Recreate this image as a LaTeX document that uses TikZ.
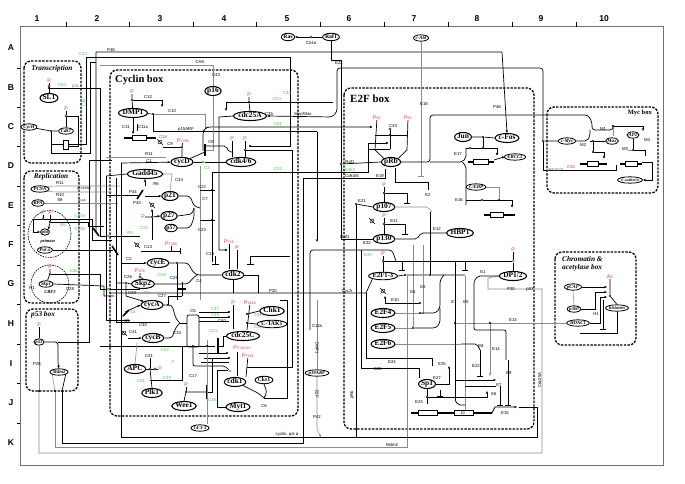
\documentclass[tikz,border=0pt]{standalone}
\usepackage{fontspec}
\setmainfont{Liberation Serif}
\newfontfamily\labf{Liberation Sans}
\usetikzlibrary{shapes.geometric,arrows.meta}
\pgfdeclarelayer{bg}
\pgfsetlayers{bg,main}
\definecolor{grn}{RGB}{60,205,60}
\definecolor{pnk}{RGB}{235,40,110}
\definecolor{cyn}{RGB}{40,215,235}
\tikzset{
 mol/.style={ellipse,draw,line width=1.05pt,fill=white,inner xsep=0pt,inner ysep=0pt,text height=5.1pt,text depth=1.3pt,font=\fontsize{7.4}{8}\selectfont\bfseries},
 mols/.style={ellipse,draw,line width=0.8pt,fill=white,inner xsep=0pt,inner ysep=0pt,text height=3.5pt,text depth=1pt,font=\fontsize{4.8}{5}\selectfont\bfseries\itshape},
 molm/.style={ellipse,draw,line width=0.9pt,fill=white,inner xsep=0pt,inner ysep=0pt,text height=4.2pt,text depth=1.1pt,font=\fontsize{5.8}{6}\selectfont\bfseries},
 lb/.style={font=\labf\fontsize{4.3}{4.6}\selectfont,inner sep=0.2pt},
 gl/.style={lb,text=grn},
 pp/.style={font=\labf\fontsize{5.2}{5.5}\selectfont,text=pnk,inner sep=0.2pt},
 bx/.style={draw,line width=1.3pt,dash pattern=on 2.4pt off 1.3pt,rounded corners=7pt},
 bt/.style={font=\fontsize{7.3}{8.3}\selectfont\bfseries\itshape,inner sep=0pt},
 it/.style={font=\fontsize{4.5}{5}\selectfont\bfseries\itshape,inner sep=0pt},
 ln/.style={line width=0.7pt},
 gln/.style={line width=0.55pt,black!45},
 jd/.style={circle,fill,inner sep=0pt,minimum size=2.3pt},
 oc/.style={circle,draw,fill=white,inner sep=0pt,minimum size=2.2pt,line width=0.45pt},
 ar/.style={-{Stealth[length=3pt,width=2.4pt]}},
 ih/.style={-{Bar[width=6pt,line width=1.1pt]}},
 ct/.style={-{Circle[open,length=2.2pt,width=2.2pt]}},
 gridl/.style={font=\labf\bfseries\fontsize{8.5}{9}\selectfont,inner sep=0pt},
}
\newcommand\Lb[4][lb]{\node[#1] (#2) at (#3) {#4};}
\newcommand\Jd[2]{\node[jd] (#1) at (#2) {};}
\newcommand\Oc[2]{\node[oc] (#1) at (#2) {};}
\newcommand\degsym[2]{\draw[line width=0.5pt,rotate around={45:(#1,#2)}] (#1,#2) ellipse (2.4pt and 1.3pt);\draw[line width=0.5pt] ({#1-3},{#2-3})--({#1+3},{#2+3});}
\newcommand\genesym[5]{\draw[line width=1.4pt] (#1,#5)--(#2,#5);\draw[line width=0.5pt,fill=white] (#3,{#5-2.5}) rectangle (#4,{#5+2.5});}
\begin{document}
\begin{tikzpicture}[x=1pt,y=-1pt]
\useasboundingbox (0,0) rectangle (685,484);
% ---------- grid ----------
\foreach \x/\t in {37/1,97/2,160/3,224/4,287/5,349/6,414/7,477/8,541/9,604/10}
  \node[gridl] (c\t) at (\x,19) {\t};
\foreach \y/\t in {48/A,88/B,127/C,166/D,206/E,245/F,284/G,324/H,364/I,403/J,443/K}
  \node[gridl] (r\t) at (11,\y) {\t};
% ---------- nodes ----------
\node[molm] (Ras) at (288,37) {Ras};
\node[molm] (Raf1) at (331,37) {Raf1};
\node[mols] (cAbl) at (421,38) {c-Abl};
\node[mol] (SL1) at (49,98) {SL1};
\node[mols] (CycH) at (29,127) {CycH};
\node[mols] (Cdk7) at (66,131) {Cdk7};
\node[mols] (PCNA) at (40,189) {PCNA};
\node[mols] (RPA) at (38,203) {RPA};
\node[mols,font=\fontsize{4.2}{4.5}\selectfont\bfseries\itshape] (p68) at (45,232) {p68};
\Lb[it]{primase}{48,241}{primase}
\node[mols] (Pola) at (45,250) {Pol α};
\node[mols] (Skp1) at (46,284) {Skp1};
\Lb[it]{CBF3}{50,292}{CBF3}
\node[mols] (p53) at (39,342) {p53};
\node[mols] (Mdm2) at (59,372) {Mdm2};
\node[mol] (DMP1) at (133,113) {DMP1};
\node[mol] (p16) at (213,91) {p16};
\node[mol] (cdc25A) at (250,116) {cdc25A};
\node[mol] (cycD) at (182,162) {cycD};
\node[mol] (cdk46) at (241,162) {cdk4/6};
\node[mol] (Gadd45) at (145,174) {Gadd45};
\node[mol] (p21) at (170,196) {p21};
\node[mol] (p27) at (169,216) {p27};
\node[molm] (p57) at (171,228) {p57};
\node[mol] (cycE) at (158,263) {cycE};
\node[mol] (cdk2) at (233,275) {cdk2};
\node[mol] (Skp2) at (143,284) {Skp2};
\node[mol] (cycA) at (152,305) {cycA};
\node[mol] (cycB) at (153,338) {cycB};
\node[mol] (Chk1) at (272,311) {Chk1};
\node[molm] (CTAK1) at (272,324) {C-TAK1};
\node[mol] (cdc25C) at (243,336) {cdc25C};
\node[mol] (APC) at (135,369) {APC};
\node[mol] (Plk1) at (152,393) {Plk1};
\node[mol] (cdk1) at (235,382) {cdk1};
\node[molm] (Cks1) at (264,380) {Cks1};
\node[mol] (Wee1) at (184,406) {Wee1};
\node[mol] (Myt1) at (238,407) {Myt1};
\node[mols] (n1433) at (200,428) {14-3-3};
\node[mols] (p19ARF) at (317,373) {p19ARF};
\node[mol] (pRb) at (391,162) {pRb};
\node[mol] (Jun) at (463,137) {Jun};
\node[mol] (cFos) at (507,138) {c-Fos};
\node[mols] (ERCC1) at (515,157) {ERCC1};
\node[mols] (CEBP) at (476,187) {C/EBP};
\node[mol] (p107) at (384,207) {p107};
\node[mol] (p130) at (384,239) {p130};
\node[mol] (HBP1) at (460,233) {HBP1};
\node[molm,font=\fontsize{6.6}{7}\selectfont\bfseries] (E2F13) at (383,276) {E2F1-3};
\node[mol] (DP12) at (513,276) {DP1/2};
\node[mol] (E2F4) at (383,313) {E2F4};
\node[mol] (E2F5) at (383,328) {E2F5};
\node[mol] (E2F6) at (383,344) {E2F6};
\node[mol] (Sp1) at (427,384) {Sp1};
\node[mols] (cMyc) at (567,141) {c-Myc};
\node[mols] (Max) at (612,141) {Max};
\node[mols] (AP2) at (633,135) {AP2};
\node[mols,font=\fontsize{3.8}{4}\selectfont\bfseries\itshape] (Ecad) at (630,180) {E-cadherin};
\node[mols] (pCAF) at (573,287) {pCAF};
\node[mols] (p300) at (574,309) {p300};
\node[mols] (HDAC1) at (578,323) {HDAC1};
\node[mols] (hist) at (617,308) {histones};
% ---------- box titles ----------
\Lb[bt]{tTr}{52,69}{Transcription}
\Lb[bt]{tRe}{51,177}{Replication}
\node[bt,anchor=west] (tP53) at (31,315) {p53 box};
\node[font=\fontsize{10.5}{11}\selectfont\bfseries,anchor=west,inner sep=0pt] (tCy) at (115,80) {Cyclin box};
\node[font=\fontsize{11}{12}\selectfont\bfseries,anchor=west,inner sep=0pt] (tE2) at (350,99) {E2F box};
\node[font=\fontsize{6.5}{7}\selectfont\bfseries,anchor=east,inner sep=0pt] (tMy) at (652,113) {Myc box};
\node[bt,anchor=north west,align=left] (tCh) at (562,256) {Chromatin \&\\acetylase box};
% ---------- P labels ----------
\Lb[pp]{pSL}{49,81}{P}
\Lb[pp]{pC7}{66,109}{P}
\Lb[pp]{pR1}{43,213}{P}
\Lb[pp]{pR2}{50,213}{P}
\Lb[pp]{pSk}{50,267}{P}
\Lb[pp]{p53P}{39,325}{P}
\Lb[pp]{pDM}{132,92}{P}
\Lb[pp]{pA}{249,95}{P}
\Lb[pp]{pT286}{183,141}{P\fontsize{3.6}{4}\selectfont T286}
\Lb[pp]{pk1}{232,139}{P}
\Lb[pp]{pk2}{245,139}{P}
\Lb[pp]{pp27}{143,217}{P}
\Lb[pp]{pT380}{171,244}{P\fontsize{3.6}{4}\selectfont T380}
\Lb[pp]{pT15}{229,242}{P\fontsize{3.6}{4}\selectfont T15}
\Lb[pp]{pk2b}{237,248}{P}
\Lb[pp]{pS76}{140,271}{P\fontsize{3.6}{4}\selectfont S76}
\Lb[pp]{pcA}{133,312}{\fontsize{3.8}{4}\selectfont C3}
\Lb[pp]{pc25}{233,303}{P}
\Lb[pp]{pS216}{250,303}{P\fontsize{3.6}{4}\selectfont S216}
\Lb[pp]{pT14}{242,348}{P\fontsize{3.6}{4}\selectfont T14/Y15}
\Lb[pp]{pT161}{248,356}{P\fontsize{3.6}{4}\selectfont T161}
\Lb[pp]{pAPC}{160,369}{P}
\Lb[pp]{pWee}{186,385}{P}
\Lb[pp]{pE1a}{377,118}{P\fontsize{3.6}{4}\selectfont E1}
\Lb[pp]{pE1b}{408,118}{P\fontsize{3.6}{4}\selectfont E1}
\Lb[pp]{p107P}{384,185}{P}
\Lb[pp]{p130P}{384,216}{P}
\Lb[pp]{pE2F}{383,254}{P}
\Lb[pp]{pDP}{513,250}{P}
\Lb[pp]{pAc}{610,277}{Ac}
% ---------- junction dots ----------
\Jd{jC7}{51,131} \Jd{jSL}{49,88} \Jd{jR1}{43,219} \Jd{jR2}{50,222}
\Jd{jDM}{153,114} \Jd{jA}{249,102} \Jd{jT286}{182,147} \Jd{jk2}{245,150}
\Jd{j22}{212,190} \Jd{j23}{212,220} \Jd{jp27}{152,217} \Jd{jE}{177,263}
\Jd{jSk}{126,283} \Jd{jcA}{168,305} \Jd{jK1}{247,314} \Jd{jK2}{247,323}
\Jd{jAPC}{150,369} \Jd{jW}{186,392} \Jd{j1}{207,346} \Jd{j2}{193,346}
\Jd{jRb}{390,135} \Jd{jJ}{483,137} \Jd{jJ2}{483,148} \Jd{jCE}{499,200}
\Jd{j107}{384,193} \Jd{j130}{384,224} \Jd{jE21}{356,204} \Jd{jE4}{420,313}
\Jd{jE5}{413,328} \Jd{jE10}{420,303} \Jd{jE13}{455,323} \Jd{jE14}{490,323}
\Jd{jSp}{427,397} \Jd{jM}{543,141} \Jd{jMx}{593,141} \Jd{jMx2}{593,152}
\Jd{jAP}{613,126} \Jd{jAP2}{633,150} \Jd{jH}{610,296} \Jd{jF1}{405,275} \Jd{jF2}{430,275}
\Jd{b1}{39,391} \Jd{b2}{55,391} \Jd{b3}{62,391} \Jd{jRaf}{341,164}
\node[circle,fill=grn,inner sep=0pt,minimum size=2.6pt] (jC3) at (203,162) {};
\node[circle,fill=grn,inner sep=0pt,minimum size=2.6pt] (jDPg) at (513,261) {};
\node[circle,fill=cyn,inner sep=0pt,minimum size=2.6pt] (jcy) at (230,371) {};
\node[circle,fill=grn,inner sep=0pt,minimum size=2.6pt] (jg1) at (108,236) {};
\node[circle,fill=grn,inner sep=0pt,minimum size=2.6pt] (jg2) at (108,289) {};
\Oc{oRas}{311,37} \Oc{oSL}{49,86} \Oc{oC7}{66,116} \Oc{oDM}{132,100} \Oc{oSk}{50,274}
\Oc{oS76}{140,277} \Oc{oP}{155,369} \Oc{oRb}{390,129} \Oc{oJ}{470,148} \Oc{oCE}{482,200}
\Oc{oE2}{383,261}
% ---------- labels ----------
\Lb{lC24a}{311,43}{C24a}
\Lb[gl]{gC14}{83,54}{C14}
\Lb{lP48}{111,50}{P48}
\Lb{lP48b}{497,107}{P48}
\Lb{lE22}{339,63}{E22}
\Lb{lCAK}{200,62}{CAK}
\Lb{lC43}{216,75}{C43}
\Lb[gl]{gC42}{62,85}{C42}
\Lb[lb,text=black!50]{lpSL}{77,86}{pSL1}
\node[gl,rotate=90] (gC36) at (84,103) {C36};
\Lb{lR11}{60,183}{R11}
\Lb{lR10}{60,195}{R10}
\Lb{lS9}{60,200}{S9}
\Lb[lb,font=\labf\fontsize{3}{3}\selectfont]{lpcna}{84,189}{p21/PCNA}
\Lb[lb,font=\labf\fontsize{3}{3}\selectfont]{lcyca}{82,201}{CycA}
\Lb[gl]{gR5}{63,225}{R5}
\Lb[gl]{gC20}{80,216}{C20a}
\Lb[gl]{gC20b}{80,229}{C20b}
\Lb[gl]{gCdc4}{75,271}{Cdc4}
\Lb{lC28}{70,289}{C28}
\Lb{lR1}{32,288}{R1}
\Lb{lP28}{37,364}{P28}
\Lb{lC12}{148,97}{C12}
\Lb{lC10}{172,111}{C10}
\Lb{lC11}{126,127}{C11}
\Lb{lC11a}{143,127}{C11a}
\Lb[lb,text=pnk]{lC16}{163,137}{C16}
\Lb{lp15}{186,129}{p15ARF}
\Lb[gl]{gC34}{287,93}{C34}
\Lb[gl]{gC24}{277,99}{C24}
\Lb{lC35}{269,114}{C35}
\Lb{lMM}{303,114}{Myc/Max}
\Lb[gl]{gC31}{278,124}{C31}
\Lb{lC8}{211,142}{C8}
\Lb{lC9}{170,144}{C9}
\Lb[gl]{gC3}{207,168}{C3}
\Lb{lR11b}{149,154}{R11}
\Lb{lC1}{149,161}{C1}
\Lb{lC34}{179,180}{C34}
\Lb{lR6}{156,184}{R6}
\Lb{lP44}{133,192}{P44}
\Lb{lP43}{137,203}{P43}
\Lb{lC22}{202,187}{C22}
\Lb{lC7}{205,199}{C7}
\Lb{lC23}{202,230}{C23}
\Lb[gl]{gC21}{144,228}{C21}
\Lb[gl]{gC32}{278,169}{C32}
\Lb[gl]{gR3}{130,233}{R3}
\Lb{lC13}{148,247}{C13}
\Lb{lC2}{129,259}{C2}
\Lb{lC19}{210,254}{C19}
\Lb{lC25}{174,278}{C25}
\Lb[gl]{gC28}{162,275}{C28}
\Lb{lC4}{199,281}{C4}
\Lb{lC26}{128,277}{C26}
\Lb{lC27}{162,296}{C27}
\Lb[gl]{gR2}{147,293}{R2}
\Lb{lP20}{273,291}{P20}
\Lb{lC29}{132,293}{C29}
\Lb{lS9b}{127,321}{S9}
\Lb{lC30}{143,325}{C30}
\Lb{lC15}{177,333}{C15}
\Lb{lC5}{193,311}{C5}
\Lb[gl]{gC37}{215,309}{C37}
\Lb[gl]{gC39}{215,315}{C39}
\Lb{lC40}{222,321}{C40}
\Lb[gl]{gC38}{258,315}{C38}
\Lb[gl]{gC39b}{258,327}{C39}
\Lb[gl]{gC24b}{213,331}{C24}
\Lb{lC41}{133,332}{C41}
\Lb[gl]{gC42b}{165,350}{C42}
\Lb{lC41b}{149,356}{C41}
\Lb[gl]{gT}{173,362}{T}
\Lb[gl]{gC41}{141,381}{C41}
\Lb[gl]{gC39c}{167,378}{C39}
\Lb{lC17}{193,376}{C17}
\Lb[gl]{gC16}{212,400}{C16}
\Lb{lC6}{264,406}{C6}
\Lb{lC11b}{317,326}{C11b}
\node[lb,rotate=-90] (lDMP) at (317,348) {DMP1};
\node[lb,rotate=-90] (lE2F) at (317,394) {E2F};
\Lb{lP42}{317,417}{P42}
\Lb{lcyc}{287,434}{cyclin, pol α}
\Lb{lMdm}{392,445}{Mdm2}
\Lb{lC33}{393,126}{C33}
\Lb{lRaf}{350,162}{Raf1}
\Lb[gl]{gCdk2}{350,170}{Cdk2}
\Lb{lCdk46}{352,176}{Cdk4/6}
\Lb{lE19}{380,176}{E19}
\Lb{lE18}{424,104}{E18}
\Lb{lE17}{458,154}{E17}
\Lb{lE16}{459,200}{E16}
\Lb{lE2}{428,195}{E2}
\Lb{lE21}{362,201}{E21}
\Lb{lE11}{394,221}{E11}
\Lb{lE12}{437,229}{E12}
\Lb{lRaf2}{345,237}{Raf1}
\Lb{lE22b}{367,243}{E22}
\Lb[gl]{gE20}{368,255}{E20}
\Lb{lE1}{483,272}{E1}
\Lb{lE3}{423,287}{E3}
\Lb{lE4}{413,292}{E4}
\Lb{lCycA}{347,291}{CycA}
\Lb{lE10}{395,300}{E10}
\Lb{lE7}{454,302}{E7}
\Lb{lE5}{466,302}{E5}
\Lb{lE13}{513,320}{E13}
\Lb{lE14}{496,349}{E14}
\Lb{lE8}{481,346}{E8}
\Lb{lE22c}{476,366}{E22}
\Lb{lE9}{509,373}{E9}
\Lb{lE24}{392,362}{E24}
\Lb{lE26}{378,369}{E26}
\Lb{lE25}{442,364}{E25}
\Lb{lE27}{437,378}{E27}
\Lb{lE23}{419,402}{E23}
\Lb{lE7b}{499,385}{E7}
\Lb{lE6}{494,394}{E6}
\Lb{lE15}{505,413}{E15}
\Lb{lP20b}{511,289}{P20}
\Lb{lp53}{530,289}{p53}
\node[lb,rotate=90] (lpRb) at (352,395) {pRb};
\node[lb,rotate=90] (lcdc) at (539.5,380) {Cdc25A};
\Lb{lM1}{603,129}{M1}
\Lb{lM2}{583,145}{M2}
\Lb{lM3}{625,149}{M3}
\Lb{lM4}{647,140}{M4}
\Lb[lb,text=pnk]{lC35r}{571,167}{C35}
\Lb[lb,text=black!55]{lpE}{555,170}{pRb/E2F}
\Lb{lH1}{596,314}{H1}
\Lb[lb,font=\labf\fontsize{3.5}{4}\selectfont]{lE2g}{463,413}{E2}
% ---------- background: boxes and connectors ----------
\begin{pgfonlayer}{bg}
\fill[white] (0,0) rectangle (685,484);
\draw[line width=1pt,black!55] (20,27) rectangle (663,465);
\foreach \x in {66,129,193,256,320,384,448,512,576} \draw[line width=0.6pt] (\x,22)--(\x,27);
\foreach \y in {68,107,146,186,225,265,304,344,383,423} \draw[line width=0.6pt] (17,\y)--(20,\y);
\draw[bx] (24,61) rectangle (81,163);
\draw[bx] (24,171) rectangle (79,303);
\draw[bx] (26,309) rectangle (78,391);
\draw[bx] (110,70) rectangle (298,416);
\draw[bx] (344,88) rectangle (534,429);
\draw[bx] (547,107) rectangle (658,193);
\draw[bx] (555,252) rectangle (636,345);
\draw[line width=0.6pt,dash pattern=on 1.6pt off 1pt] (49.5,234) ellipse (21.5pt and 23.5pt);
\draw[line width=0.6pt,dash pattern=on 1.6pt off 1pt] (50,284) circle (19pt);
% top
\draw[ln,ar] (Raf1) -- (oRas) -- (Ras);
\draw[ln] (Raf1.south) -- (331,60) -- (341,60) -- (jRaf) -- (341,239) -- (p130.west);
\draw[ln] (jRaf) -- (pRb.west);
\draw[ln,ar,rounded corners=3pt] (cMyc.west) -- (jM) -- (543,68) -- (337,68) -- (337,112) -- (332,117) -- (cdc25A.east);
\draw[ln,ar] (96,232) -- (96,52) -- (502,52) -- (cFos.north);
\draw[line width=1.6pt] (93,228) -- (99,236);
% transcription
\draw[ln] (pSL) -- (oSL) -- (SL1);
\draw[ln] (jSL) -- (100,88) -- (100,236) -- (jg1) -- (140,236);
\draw[ln] (CycH) -- (jC7) -- (Cdk7);
\draw[ln] (pC7) -- (oC7) -- (Cdk7);
\draw[ln] (oC7) -- (78,116) -- (78,146) -- (68,146);
\draw[ln] (jC7) -- (51,144) -- (63,144);
\draw[ln,fill=white] (63,140) rectangle (68,149);
\draw[ln] (51,144) -- (51,153) -- (90,153) -- (90,62) -- (96,62);
\draw[ln,ct] (68,144) -- (86,144) -- (86,57) -- (290,57) -- (290,146) -- (249,146);
% replication
\draw[gln] (PCNA.north east) -- (57,186) -- (120,186);
\draw[gln] (PCNA.south east) -- (57,192) -- (112,192);
\draw[gln] (RPA) -- (118,203);
\draw[ln] (pR1) -- (jR1); \draw[ln] (pR2) -- (jR2);
\draw[ln,ar] (jR1) -- (33,219) -- (33,232) -- (p68.west);
\draw[ln,ar] (jR2) -- (p68.north east);
\draw[ln] (jR1) -- (92,219) -- (92,240) -- (112,240);
\draw[ln] (jR2) -- (88,222) -- (88,226) -- (104,226);
\draw[ln] (Pola) -- (113,250);
\draw[line width=1.6pt] (112,246) -- (118,255);
\draw[ln] (pSk) -- (oSk) -- (Skp1);
\draw[ln] (oSk) -- (100,274) -- (100,289) -- (jg2) -- (140,289);
\draw[ln] (Skp1.east) -- (104,286) -- (104,296) -- (114,296);
% p53
\draw[ln] (p53P) -- (p53);
\draw[ln,ar,rounded corners=3pt] (p53.east) -- (58,342) -- (58,364) -- (Mdm2.north);
\draw[ln] (58,342) -- (89,342) -- (89,160) -- (112,160);
\draw[gln] (p53.south) -- (b1);
\draw[gln] (b1) -- (39,453) -- (542,453) -- (542,289) -- (488,289) -- (488,278) -- (DP12.west);
\draw[gln] (Mdm2.south west) -- (b2);
\draw[gln] (b2) -- (55,447) -- (407,447) -- (407,276);
\draw[ln] (Mdm2.south east) -- (b3);
\draw[ln] (b3) -- (62,443) -- (303,443) -- (303,178) -- (385,178) -- (385,169);
% cyclin box left verticals
\draw[ln] (106,176) -- (106,320) -- (130,320);
\draw[ln] (106,176) -- (Gadd45.west);
\draw[ln] (116,178) -- (116,322) -- (170,322);
\draw[ln] (121,163) -- (121,437) -- (537,437) -- (537,407);
\draw[ln,ar] (121,163) -- (cycD);
\draw[gln] (106,157) -- (166,157);
\draw[ln] (116,283) -- (jSk) -- (Skp2.west);
\draw[ln] (100,346) -- (j2) -- (j1) -- (215,346);
\draw[line width=1.4pt] (218,338) -- (218,353);
\draw[ln] (cdc25C.west) -- (223,336) -- (223,346) -- (219,346);
% DMP1 / p16
\draw[ln] (pDM) -- (oDM) -- (DMP1);
\draw[ln,ar] (oDM) -- (162,100) -- (162,107);
\draw[ln] (DMP1) -- (jDM);
\draw[gln] (jDM) -- (205,114) -- (205,128);
\draw[ln] (jDM) -- (153,132);
\genesym{124}{156}{132}{146}{138}
\draw[ln,ar] (DMP1.south) -- (133,134);
\draw[line width=1pt] (137,124) -- (137,131);
\draw[line width=1pt] (153,132) -- (317,132);
\draw[ln,ar] (317,132) -- (317,242);
\draw[ln,ct,rounded corners=3pt] (203,150) -- (203,131) -- (207,127) -- (372,127);
\draw[gln] (100,65) -- (213,65) -- (p16.north);
\draw[gln] (p16.south) -- (213,150) -- (203,150);
% cdc25A / cdk4/6 / cycD
\draw[ln] (pA) -- (jA) -- (cdc25A.north);
\draw[ln,ar] (333,102) -- (226,102) -- (226,111);
\draw[ln,ct] (cdc25A.west) -- (219,117) -- (219,250) -- (227,250);
\draw[ln] (cycD.east) -- (jC3) -- (cdk46.west);
\draw[line width=1.2pt] (205,144) -- (205,156);
\draw[ln] (cycD.north east) -- (205,152);
\draw[ln,rounded corners=2pt] (205,146) -- (226,146) -- (229,152) -- (232,152);
\draw[ln] (pk1) -- (232,157);
\draw[ln] (pk2) -- (jk2) -- (245,157);
\draw[ln] (jk2) -- (292,150) -- (292,367) -- (247,367);
\draw[ln] (pT286) -- (jT286) -- (cycD.north);
\draw[ln] (163,147) -- (jT286);
\degsym{160}{142}
\draw[ln] (212,262) -- (212,172) -- (368,172) -- (368,143);
\draw[ln,ct] (368,143) -- (388,143);
\draw[ln] (368,149) -- (390,149);
% Gadd45 / p21 / p27 / p57
\draw[gln] (Gadd45.east) -- (172,174) -- (p21.north);
\draw[ln] (106,195) -- (138,195);
\draw[line width=1.6pt] (137,199) -- (143,190);
\draw[ln,ar] (145,186) -- (Gadd45.south);
\draw[ln,ar] (145,196) -- (p21.west);
\draw[ln,ar] (pp27) -- (jp27) -- (p27.west);
\draw[ln,ar] (jp27) -- (152,209);
\degsym{152}{205}
\draw[ln] (jp27) -- (152,240);
\draw[ln,rounded corners=3pt] (p21.east) -- (190,196) -- (194,206) -- (200,208);
\draw[ln,rounded corners=2pt] (p27.east) -- (192,214) -- (194,208);
\draw[ln,rounded corners=3pt] (p57.east) -- (190,228) -- (194,218) -- (194,208);
\draw[gln] (200,166) -- (200,300);
\draw[ln,ih] (200,190) -- (j22) -- (212,190);
\draw[ln,ih] (200,220) -- (j23) -- (212,220);
% cycE / cdk2 / Skp2
\degsym{137}{245}
\draw[ln,ih] (141,251) -- (181,251);
\draw[ln] (pT380) -- (171,251);
\draw[ln,ar] (121,263) -- (cycE.west);
\draw[ln,rounded corners=3pt] (cycE.east) -- (jE) -- (188,263) -- (193,272) -- (197,275) -- (cdk2.west);
\draw[ln,rounded corners=3pt] (Skp2.east) -- (188,284) -- (193,278) -- (197,275);
\draw[ln] (jE) -- (177,300);
\draw[ln] (pT15) -- (229,269);
\draw[ln] (pk2b) -- (237,269);
\draw[ln,-{Bar[width=7pt,line width=1.2pt]}] (215,256) -- (215,265);
\draw[ln,-{Bar[width=7pt,line width=1.2pt]}] (250,256) -- (250,265);
\draw[ln] (250,256) -- (290,256);
\draw[ln] (cdk2.south) -- (233,293);
\draw[ln] (cdk2.east) -- (258,275) -- (258,293);
\draw[line width=1.5pt] (178,289) -- (186,289);
\draw[ln] (182,282) -- (182,296);
\draw[ln] (110,293) -- (366,293) -- (E2F13.south west);
\draw[ln] (pS76) -- (oS76) -- (Skp2.north);
\draw[ln,ar] (jSk) -- (126,296) -- (cycA.north west);
% cycA / cycB / cdc25C
\draw[line width=1.6pt] (123,316) -- (129,310);
\draw[ln,ar] (125,312) -- (cycA.west);
\draw[ln,rounded corners=3pt] (cycA.east) -- (jcA) -- (172,305) -- (176,319) -- (180,323);
\draw[ln,rounded corners=3pt] (cycB.east) -- (172,338) -- (176,327) -- (180,323);
\draw[ln] (180,323) -- (187,323);
\draw[ln] (jcA) -- (168,296) -- (182,296);
\draw[ln,rounded corners=2pt] (187,315) rectangle (199,347);
\draw[ln,ct] (199,312) -- (230,312);
\draw[ln,ct] (199,317) -- (230,317);
\draw[ln] (199,321) -- (229,321);
\draw[ln] (pc25) -- (233,329);
\draw[ln] (pS216) -- (247,330);
\draw[ln] (Chk1.west) -- (jK1);
\draw[ln] (CTAK1.west) -- (jK2);
\degsym{124}{333}
\draw[ln,ar] (128,338) -- (cycB.west);
\draw[gln] (137,343) -- (APC.north);
% cdk1 region
\draw[ln,ct] (199,353) -- (228,353);
\draw[ln,ct] (204,358) -- (230,358);
\draw[ln] (201,362) -- (229,362);
\draw[ln,rounded corners=2pt] (193,346) -- (193,366) -- (225,366) -- (jcy);
\draw[ln] (237,352) -- (237,376);
\draw[ln] (pT161) -- (246,377);
\draw[ln,rounded corners=3pt] (cdk1.south east) -- (258,393) -- (264,398);
\draw[ln,rounded corners=3pt] (Cks1.south) -- (267,392) -- (264,398);
\draw[ln] (264,398) -- (287,398) -- (287,300) -- (280,300);
\draw[ln] (Myt1.west) -- (217,407) -- (217,370) -- (228,370);
\draw[ln] (Wee1.north) -- (jW) -- (207,392);
\draw[line width=1.4pt] (207,385) -- (207,399);
\draw[ln] (pWee) -- (jW);
\draw[ln] (207,392) -- (212,392) -- (212,358);
\draw[gln] (207,424) -- (207,340);
\draw[ln] (APC.east) -- (jAPC) -- (oP) -- (pAPC);
\draw[ln] (jAPC) -- (150,358);
\draw[ln] (Plk1.north) -- (jAPC);
\draw[ln] (150,380) -- (182,380) -- (182,347);
\draw[gln] (p19ARF.north) -- (317,300);
\draw[gln,ar,rounded corners=3pt] (p19ARF.south) -- (317,430) -- (321,437);
% E2F box: pRb
\draw[ln] (pE1a) -- (375,150) -- (pRb.north west);
\draw[ln] (pE1b) -- (407,150) -- (pRb.north east);
\draw[ln] (375,135) -- (jRb) -- (407,135);
\draw[ln] (oRb) -- (390,149);
\draw[gln,ih] (cAbl.south) -- (421,177);
\draw[ln] (395,168) -- (395,182) -- (428,182) -- (428,190);
\draw[ln,rounded corners=3pt] (pRb.east) -- (430,162) -- (430,115) -- (588,115) -- (592,122) -- (592,130) -- (613,130) -- (jAP);
\draw[ln,rounded corners=2pt] (430,162) -- (462,162) -- (466,158) -- (466,148);
\draw[ln,rounded corners=2pt] (462,162) -- (466,166) -- (466,205);
% Jun / Fos / CEBP
\draw[ln] (Jun.east) -- (jJ) -- (cFos.west);
\draw[ln] (jJ) -- (jJ2);
\draw[ln,ct] (oJ) -- (497,148) -- (497,155);
\draw[ln] (466,148) -- (oJ);
\genesym{468}{494}{473}{488}{162}
\draw[ln,ct] (494,160) -- (ERCC1.west);
\draw[gln] (CEBP.east) -- (499,187) -- (jCE);
\draw[ln,ct] (oCE) -- (512,200) -- (512,207);
\draw[ln] (466,200) -- (oCE);
\genesym{484}{515}{490}{503}{215}
% p107 / p130 / HBP1
\draw[ln] (p107P) -- (j107) -- (p107.north);
\draw[ln,ih] (j107) -- (407,193) -- (407,204);
\draw[gln,rounded corners=2pt] (p107.east) -- (428,207) -- (432,212);
\draw[ln] (jE21) -- (p107.west);
\draw[ln] (jE21) -- (356,437);
\draw[ln] (p130P) -- (j130) -- (p130.north);
\draw[ln,ih] (j130) -- (405,224) -- (405,235);
\degsym{372}{221}
\draw[ln,rounded corners=2pt] (HBP1.west) -- (421,233) -- (417,239) -- (p130.east);
\draw[gln] (413,245) -- (413,292);
\draw[gln] (423,245) -- (423,270);
\draw[ln] (430,212) -- (430,275);
\draw[ln,rounded corners=3pt] (310,330) -- (310,250) -- (392,250) -- (396,261);
% E2F1-3 / DP
\draw[ln] (pE2F) -- (oE2) -- (E2F13.north);
\draw[ln] (oE2) -- (jDPg);
\draw[ln] (pDP) -- (jDPg) -- (DP12.north);
\draw[ln,ih] (402,261) -- (402,271);
\draw[ln] (E2F13.east) -- (jF1) -- (jF2) -- (465,275);
\draw[ln,ih] (465,262) -- (465,271);
\draw[gln] (E2F4.east) -- (jE4);
\draw[gln] (E2F5.east) -- (jE5);
\draw[gln] (jE5) -- (413,292);
\draw[gln] (jE4) -- (423,313) -- (423,270);
\draw[gln] (E2F6.east) -- (461,344);
\draw[ln,ar] (385,303) -- (385,296);
\degsym{383}{291}
\draw[ln] (385,303) -- (jE10);
\draw[ln,rounded corners=3pt] (jE4) -- (436,313) -- (440,308) -- (440,280) -- (444,275);
\draw[ln,rounded corners=3pt] (jE5) -- (436,328) -- (440,323) -- (440,308);
\draw[ln] (455,262) -- (455,400);
\draw[gln] (465,276) -- (465,411);
\draw[gln] (jE13) -- (HDAC1.west);
\draw[gln,ar] (jE14) -- (490,376);
\draw[ln,rounded corners=2pt] (DP12.west) -- (478,276) -- (474,281) -- (474,330) -- (506,330) -- (506,360);
\draw[ln,rounded corners=2pt] (461,344) -- (477,344) -- (480,350);
\draw[ln,ih] (480,350) -- (480,377);
\draw[ln] (361,250) -- (361,368) -- (419,368) -- (419,378);
\draw[ln] (366,293) -- (366,358) -- (432,358) -- (432,366);
\draw[ln,ar] (Sp1.east) -- (449,384) -- (449,366);
\draw[ln,ih] (440,390) -- (440,397);
\draw[ln] (Sp1.south) -- (jSp);
\draw[ln,ar] (jSp) -- (487,397) -- (487,391);
\draw[ln] (jSp) -- (427,404);
\draw[ln,ar] (456,380) -- (496,380);
\draw[ln] (465,386) -- (496,386);
\draw[ln,ih] (500,386) -- (500,406);
\draw[ln,ih] (508,360) -- (508,406);
\genesym{411}{492}{418}{437}{413}
\draw[line width=0.5pt,fill=white] (454,410.5) rectangle (473,415.5);
\draw[ln,ar] (492,413) -- (495,407) -- (517,407);
\draw[ln] (519,407) -- (537,407);
\draw[ln,rounded corners=2pt] (455,400) -- (458,405) -- (465,405);
% Myc box
\draw[ln,rounded corners=2pt] (cMyc.east) -- (587,141) -- (590,136) -- (590,130);
\draw[ln] (590,141) -- (jMx) -- (Max.west);
\draw[ln] (jMx) -- (jMx2) -- (604,152);
\draw[ln,ct] (604,152) -- (604,158);
\genesym{580}{607}{587}{598}{164}
\draw[ln,ar] (jAP) -- (643,126) -- (643,131);
\draw[gln] (jAP) -- (613,136);
\draw[ln] (AP2.south) -- (jAP2) -- (645,150) -- (645,156);
\draw[gln] (jAP2) -- (628,150);
\genesym{620}{642}{625}{637}{164}
\draw[ln,ar] (642,162) -- (652,162) -- (652,180) -- (Ecad.east);
\draw[ln] (jM) -- (543,170) -- (616,170) -- (616,165);
% chromatin
\draw[gln] (pCAF.south) -- (p300.north);
\draw[ln,ar] (pCAF.east) -- (607,287);
\draw[ln,ar] (p300.east) -- (595,309) -- (595,292) -- (607,292);
\draw[ln,ar] (HDAC1.east) -- (600,323) -- (600,297) -- (607,297);
\draw[ln] (pAc) -- (jH) -- (hist.north);
\draw[ln,ih] (603,300) -- (603,330);
\draw[ln] (hist.south) -- (617,333) -- (580,333);
\end{pgfonlayer}
\end{tikzpicture}
\end{document}
